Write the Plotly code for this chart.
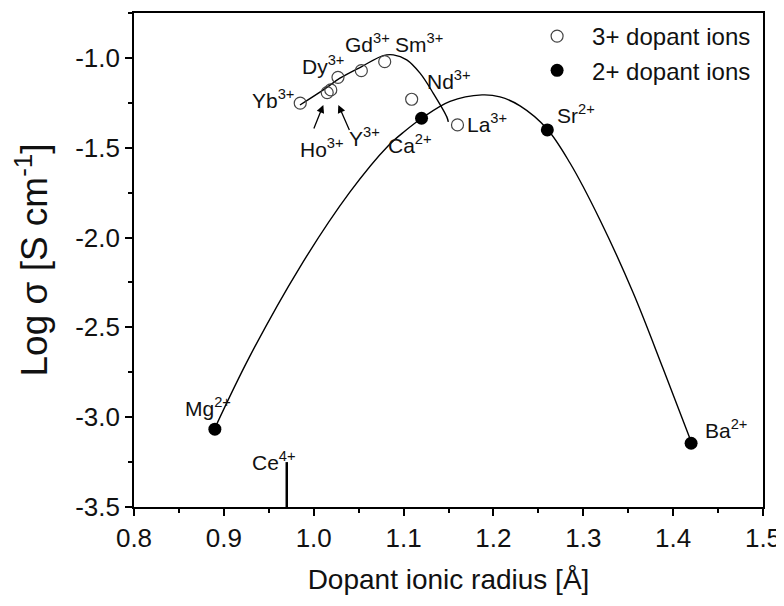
import plotly.graph_objects as go

# ---- data ----
ions_3 = ["Yb", "Ho", "Y", "Dy", "Gd", "Sm", "Nd", "La"]
radius_3 = [0.985, 1.015, 1.019, 1.027, 1.053, 1.079, 1.109, 1.160]
logsig_3 = [-1.252, -1.193, -1.178, -1.108, -1.071, -1.021, -1.230, -1.373]

ions_2 = ["Mg", "Ca", "Sr", "Ba"]
radius_2 = [0.890, 1.120, 1.260, 1.420]
logsig_2 = [-3.067, -1.336, -1.401, -3.145]

# fitted guide curves
fit3_x = [0.9847, 1.0107, 1.0292, 1.0534, 1.0774, 1.0886, 1.1035, 1.1183, 1.1331, 1.1480, 1.1498]
fit3_y = [-1.262, -1.178, -1.113, -1.048, -0.987, -0.983, -1.011, -1.085, -1.197, -1.327, -1.356]

fit2_x = [0.8901, 0.9291, 0.9847, 1.0404, 1.0827, 1.1016, 1.1202, 1.1517, 1.1873, 1.2073,
          1.2296, 1.2593, 1.2852, 1.3186, 1.3556, 1.3890, 1.4206]
fit2_y = [-3.060, -2.659, -2.164, -1.746, -1.490, -1.407, -1.336, -1.242, -1.206, -1.217,
          -1.267, -1.393, -1.585, -1.902, -2.309, -2.732, -3.144]

ce_radius = [0.97, 0.97]
ce_logsig = [-3.5, -3.25]

x_ticks = [0.8, 0.9, 1.0, 1.1, 1.2, 1.3, 1.4, 1.5]
y_ticks = [-3.5, -3.0, -2.5, -2.0, -1.5, -1.0]

# label texts and anchor positions (data coords)
label_text = ["Yb<sup>3+</sup>", "Dy<sup>3+</sup>", "Gd<sup>3+</sup>", "Sm<sup>3+</sup>",
              "Nd<sup>3+</sup>", "La<sup>3+</sup>", "Ca<sup>2+</sup>", "Sr<sup>2+</sup>",
              "Ho<sup>3+</sup>", "Y<sup>3+</sup>", "Mg<sup>2+</sup>", "Ce<sup>4+</sup>",
              "Ba<sup>2+</sup>"]
label_x = [0.9803, 0.9847, 1.0326, 1.0882, 1.1238, 1.1683, 1.0804, 1.2685,
           0.9825, 1.0370, 0.8545, 0.9291, 1.4331]
label_y = [-1.228, -1.039, -0.917, -0.917, -1.123, -1.360, -1.479, -1.312,
           -1.499, -1.443, -2.943, -3.244, -3.066]
label_anchor = ["right", "left", "left", "left", "left", "left", "left", "left",
                "left", "left", "left", "left", "left"]

# arrows (head, tail)
arrow_head_x = [1.0107, 1.0274]
arrow_head_y = [-1.262, -1.262]
arrow_tail_x = [0.9995, 1.0404]
arrow_tail_y = [-1.401, -1.410]

FONT = "Liberation Sans, Arial, sans-serif"
INK = "#111111"

fig = go.Figure()

fig.add_trace(go.Scatter(x=fit3_x, y=fit3_y, mode="lines", line=dict(color="black", width=1.4, shape="spline"),
                         showlegend=False, hoverinfo="skip"))
fig.add_trace(go.Scatter(x=fit2_x, y=fit2_y, mode="lines", line=dict(color="black", width=1.4, shape="spline"),
                         showlegend=False, hoverinfo="skip"))
fig.add_trace(go.Scatter(x=ce_radius, y=ce_logsig, mode="lines", line=dict(color="black", width=2.5),
                         showlegend=False, hoverinfo="skip"))

fig.add_trace(go.Scatter(x=radius_3, y=logsig_3, mode="markers", name="3+ dopant ions",
                         text=ions_3,
                         marker=dict(symbol="circle-open", size=12, color="#444444", line=dict(width=1.2))))
fig.add_trace(go.Scatter(x=radius_2, y=logsig_2, mode="markers", name="2+ dopant ions",
                         text=ions_2,
                         marker=dict(symbol="circle", size=13, color="black")))

for t, x, y, a in zip(label_text, label_x, label_y, label_anchor):
    fig.add_annotation(x=x, y=y, text=t, showarrow=False, xanchor=a, yanchor="middle",
                       font=dict(family=FONT, size=21, color=INK))

for hx, hy, tx, ty in zip(arrow_head_x, arrow_head_y, arrow_tail_x, arrow_tail_y):
    fig.add_annotation(x=hx, y=hy, ax=tx, ay=ty, axref="x", ayref="y", text="",
                       showarrow=True, arrowhead=2, arrowsize=1.2, arrowwidth=1.3, arrowcolor="black")

axis_common = dict(showline=True, linecolor="black", linewidth=1.6, mirror=True,
                   ticks="outside", ticklen=7, tickwidth=1.5, tickcolor="black",
                   showgrid=False, zeroline=False, automargin=False,
                   tickfont=dict(family=FONT, size=26, color=INK))

fig.update_xaxes(range=[0.8, 1.5], tickvals=x_ticks, ticktext=[f"{v:.1f}" for v in x_ticks],
                 minor=dict(ticks="outside", ticklen=4, tickwidth=1.5, tickcolor="black", dtick=0.05),
                 title=dict(text="Dopant ionic radius [Å]", font=dict(family=FONT, size=28, color=INK),
                            standoff=17),
                 **axis_common)
fig.update_yaxes(range=[-3.5, -0.75], tickvals=y_ticks, ticktext=[f"{v:.1f}" for v in y_ticks],
                 minor=dict(ticks="outside", ticklen=4, tickwidth=1.5, tickcolor="black", dtick=0.25),
                 title=dict(text="Log σ [S cm<sup>-1</sup>]", font=dict(family=FONT, size=37, color=INK),
                            standoff=16),
                 **axis_common)

fig.update_layout(
    width=776, height=598,
    margin=dict(l=126, r=21, t=5, b=99),
    paper_bgcolor="white", plot_bgcolor="white",
    legend=dict(x=0.617, y=0.998, xanchor="left", yanchor="top", bgcolor="rgba(0,0,0,0)",
                font=dict(family=FONT, size=24, color=INK), itemwidth=60),
)

fig.write_html("out.html")
